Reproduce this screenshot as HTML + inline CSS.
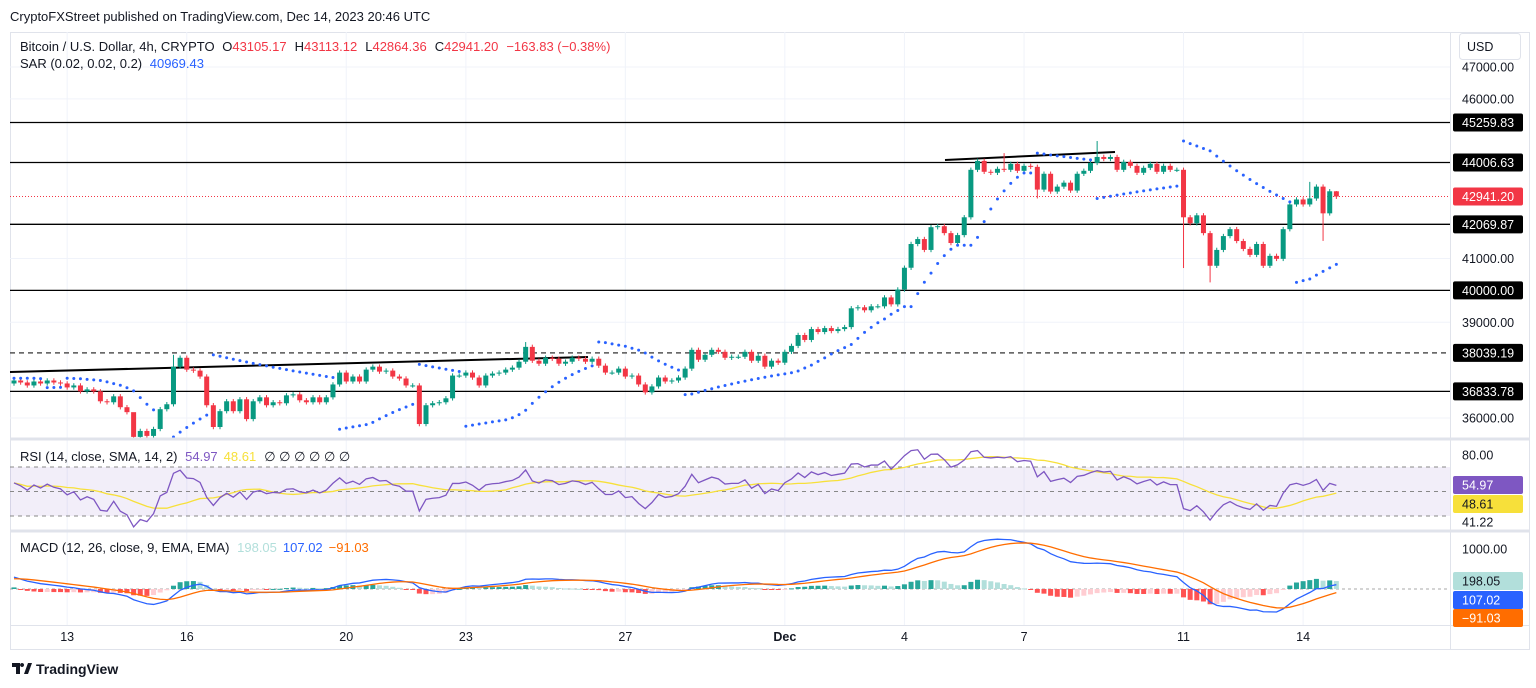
<!DOCTYPE html>
<html><head><meta charset="utf-8"><style>
html,body{margin:0;padding:0;background:#fff;width:1536px;height:688px;overflow:hidden}
svg{display:block;font-family:"Liberation Sans",sans-serif}
</style></head><body>
<svg id="c" width="1536" height="688" xmlns="http://www.w3.org/2000/svg">
<rect width="1536" height="688" fill="#fff"/>
<text x="10" y="21" font-size="13" fill="#131722">CryptoFXStreet published on TradingView.com, Dec 14, 2023 20:46 UTC</text>
<rect x="10.5" y="32.5" width="1519" height="617" fill="none" stroke="#e0e3eb"/>
<g id="grid"></g>
<rect x="10" y="467" width="1440" height="49" fill="#7e57c2" fill-opacity="0.1"/>
<g id="levels"></g>
<line x1="10" y1="372" x2="588" y2="357" stroke="#000" stroke-width="2"/>
<line x1="945" y1="160" x2="1115" y2="152" stroke="#000" stroke-width="2"/>
<g id="candles"></g>
<g id="sar"></g>
<g id="rsi"></g>
<g id="macd"></g>
<line x1="10" y1="439" x2="1530" y2="439" stroke="#e0e3eb" stroke-width="3"/>
<line x1="10" y1="531" x2="1530" y2="531" stroke="#e0e3eb" stroke-width="3"/>
<line x1="10" y1="625.5" x2="1530" y2="625.5" stroke="#e0e3eb"/>
<line x1="1450.5" y1="32" x2="1450.5" y2="650" stroke="#e0e3eb"/>
<g id="axis"></g>
<g id="taxis"></g>
<rect x="1459.5" y="33.5" width="61" height="26" rx="3" fill="#fff" stroke="#e0e3eb"/>
<text x="1467" y="51" font-size="12.5" fill="#131722">USD</text>
<text x="20" y="51" font-size="13" fill="#131722">Bitcoin / U.S. Dollar, 4h, CRYPTO <tspan dx="4">O</tspan><tspan fill="#f23645">43105.17</tspan><tspan dx="8">H</tspan><tspan fill="#f23645">43113.12</tspan><tspan dx="8">L</tspan><tspan fill="#f23645">42864.36</tspan><tspan dx="8">C</tspan><tspan fill="#f23645">42941.20</tspan><tspan dx="8" fill="#f23645">−163.83 (−0.38%)</tspan></text>
<text x="20" y="68" font-size="13" fill="#131722">SAR (0.02, 0.02, 0.2) <tspan dx="4" fill="#2962ff">40969.43</tspan></text>
<text x="20" y="461" font-size="13" fill="#131722">RSI (14, close, SMA, 14, 2) <tspan dx="4" fill="#7e57c2">54.97</tspan><tspan dx="6" fill="#f7e03a">48.61</tspan><tspan dx="8">∅ ∅ ∅ ∅ ∅ ∅</tspan></text>
<text x="20" y="552" font-size="13" fill="#131722">MACD (12, 26, close, 9, EMA, EMA) <tspan dx="4" fill="#b2dfdb">198.05</tspan><tspan dx="6" fill="#2962ff">107.02</tspan><tspan dx="6" fill="#ff6d00">−91.03</tspan></text>
<g>
<path d="M12 663h8v11h-4v-7h-4z M22 663a2 2 0 1 0 0.1 0z M24 674l4-11h4l-4 11z" fill="#131722"/>
<text x="36" y="674" font-size="14" font-weight="bold" fill="#131722">TradingView</text>
</g>
</svg>
<script>
const closes=[37175,37113,37020,37144,37082,37175,37113,37082,36958,37020,36834,
36896,36834,36524,36493,36679,36338,36183,35408,35594,35439,35656,
36276,36431,37609,37888,37516,37485,37299,36400,35718,36214,36524,
36214,36586,35966,36524,36648,36400,36493,36462,36710,36741,36555,
36493,36648,36493,36648,37051,37423,37144,37299,37144,37516,37609,
37454,37485,37299,37237,37020,37020,35811,36400,36462,36493,36617,
37330,37330,37423,37268,37020,37330,37392,37423,37516,37578,37764,
38229,37795,37702,37888,37857,37702,37764,37888,37857,37764,37857,
37640,37423,37423,37547,37299,37330,37051,36803,36989,37268,37144,
37175,37268,37547,38136,37826,37981,38136,38074,37888,37919,37919,
38074,37795,37950,37609,37795,37733,38074,38260,38601,38446,38787,
38694,38818,38725,38787,38849,39438,39469,39376,39500,39500,39779,
39562,40027,40709,41453,41608,41267,41980,42011,41794,41484,41732,
42290,43778,44057,43716,43685,43809,43778,43964,43747,43902,43871,
43158,43654,43096,43251,43375,43127,43654,43747,43995,44181,44119,
44181,43778,44026,43902,43685,43840,43964,43716,43902,43778,43778,
42290,42104,42352,41794,40771,41267,41701,41918,41546,41298,41112,
41453,40771,41081,40988,41918,42693,42848,42693,42879,43251,42414,
43105,42941];
const firstOpen=37082;
const highWicks={18:35500,24:37980,77:38380,149:44300,163:44680,195:43400,199:43113};
const lowWicks={18:35350,154:42880,176:40700,180:40250,197:41550,199:42864};
const levels=[45259.83,44006.63,42069.87,40000.00,38039.19,36833.78];
const priceTicks=[47000,46000,41000,39000,36000];
const rsiTicks=[80];
const macdTicks=[1000];
const dateLabels=["13","16","20","23","27","Dec","4","7","11","14"];
const dateIndex=[8,26,50,68,92,116,134,152,176,194];
const lastPrice=42941.20;

const NS="http://www.w3.org/2000/svg";
function mk(parent,tag,attrs){const e=document.createElementNS(NS,tag);for(const k in attrs)e.setAttribute(k,attrs[k]);parent.appendChild(e);return e;}
const X=i=>14+i*6.645;
const Y=p=>418-(p-36000)*0.031909;
const YR=v=>467-(v-70)*1.225;
const YM=v=>589-v*0.040;
const n=closes.length;
const opens=closes.map((c,i)=>i?closes[i-1]:firstOpen);
const highs=closes.map((c,i)=>highWicks[i]!==undefined?highWicks[i]:Math.max(c,opens[i])+70);
const lows=closes.map((c,i)=>lowWicks[i]!==undefined?lowWicks[i]:Math.min(c,opens[i])-70);

const grid=document.getElementById('grid');
dateIndex.forEach(i=>{const l=mk(grid,'line',{x1:X(i),x2:X(i),y1:32,y2:625,stroke:'#f0f3fa'});});
priceTicks.forEach(p=>{const l=mk(grid,'line',{x1:10,x2:1450,y1:Y(p),y2:Y(p),stroke:'#f0f3fa'});});

const lv=document.getElementById('levels');
levels.forEach(p=>{const dashed=Math.abs(p-38039.19)<1;const l=mk(lv,'line',{x1:10,x2:1450,y1:Y(p),y2:Y(p),stroke:dashed?'#555':'#000','stroke-width':dashed?1.5:1.3});if(dashed)l.setAttribute('stroke-dasharray','5 4');});
{const l=mk(lv,'line',{x1:10,x2:1450,y1:Y(lastPrice),y2:Y(lastPrice),stroke:'#f23645','stroke-dasharray':'1 2'});}

const cg=document.getElementById('candles');
for(let i=0;i<n;i++){const up=closes[i]>=opens[i];const col=up?'#089981':'#f23645';const x=X(i);
const g=mk(cg,'g',{});
mk(g,'line',{x1:x,x2:x,y1:Y(highs[i]),y2:Y(lows[i]),stroke:col,'stroke-width':1});
const t=Y(Math.max(opens[i],closes[i])),b=Y(Math.min(opens[i],closes[i]));
mk(g,'rect',{x:x-2.5,y:t,width:5,height:Math.max(1,b-t),fill:col});}

// Parabolic SAR
const sarv=[];let upT=false,af=0.02,ep=lows[0],s=highs[0];sarv.push(s);
for(let i=1;i<n;i++){s=s+af*(ep-s);
 if(upT){s=Math.min(s,lows[i-1],i>1?lows[i-2]:lows[i-1]);if(lows[i]<s){upT=false;s=ep;ep=lows[i];af=0.02;}else if(highs[i]>ep){ep=highs[i];af=Math.min(af+0.02,0.2);}}
 else{s=Math.max(s,highs[i-1],i>1?highs[i-2]:highs[i-1]);if(highs[i]>s){upT=true;s=ep;ep=highs[i];af=0.02;}else if(lows[i]<ep){ep=lows[i];af=Math.min(af+0.02,0.2);}}
 sarv.push(s);}
const sg=document.getElementById('sar');
sarv.forEach((v,i)=>{const y=Y(v);if(y<32||y>438)return;const c=mk(sg,'circle',{cx:X(i),cy:y,r:1.5,fill:'#2962ff'});});

// RSI
const rsi=[];let ag=60,al=45;rsi.push(57);
for(let i=1;i<n;i++){const d=closes[i]-closes[i-1];ag=(ag*13+Math.max(d,0))/14;al=(al*13+Math.max(-d,0))/14;rsi.push(100-100/(1+ag/al));}
const rsma=rsi.map((v,i)=>{const a=rsi.slice(Math.max(0,i-13),i+1);return a.reduce((s,x)=>s+x,0)/a.length;});
const rg=document.getElementById('rsi');
[[70,'rsi-upper'],[50,'rsi-middle'],[30,'rsi-lower']].forEach(([v,nm])=>{const l=mk(rg,'line',{x1:10,x2:1450,y1:YR(v),y2:YR(v),stroke:'#888','stroke-dasharray':'4 4'});});
{const p=mk(rg,'polyline',{points:rsma.map((v,i)=>X(i)+','+YR(v)).join(' '),fill:'none',stroke:'#f7e03a','stroke-width':1.3});}
{const p=mk(rg,'polyline',{points:rsi.map((v,i)=>X(i)+','+YR(v)).join(' '),fill:'none',stroke:'#7e57c2','stroke-width':1.3});}

// MACD
const ema=(arr,len,seed)=>{const k=2/(len+1);let e=seed;return arr.map(v=>e=v*k+e*(1-k));};
const e12=ema(closes,12,closes[0]+350),e26=ema(closes,26,closes[0]);
const macd=e12.map((v,i)=>v-e26[i]);
const sig=ema(macd,9,macd[0]-50);
const hist=macd.map((v,i)=>v-sig[i]);
const mg=document.getElementById('macd');
{const l=mk(mg,'line',{x1:10,x2:1450,y1:YM(0),y2:YM(0),stroke:'#aaa','stroke-dasharray':'3 3'});}
hist.forEach((h,i)=>{const prev=i?hist[i-1]:0;let col=h>=0?(h>=prev?'#26a69a':'#b2dfdb'):(h<prev?'#ff5252':'#ffcdd2');
const y1=YM(Math.max(h,0)),y2=YM(Math.min(h,0));const r=mk(mg,'rect',{x:X(i)-2.5,y:y1,width:5,height:Math.max(1,y2-y1),fill:col});});
{const p=mk(mg,'polyline',{points:macd.map((v,i)=>X(i)+','+YM(v)).join(' '),fill:'none',stroke:'#2962ff','stroke-width':1.3});}
{const p=mk(mg,'polyline',{points:sig.map((v,i)=>X(i)+','+YM(v)).join(' '),fill:'none',stroke:'#ff6d00','stroke-width':1.3});}

// Axis labels
const ax=document.getElementById('axis');
function plain(y,txt,nm){const t=mk(ax,'text',{x:1462,y:y+4.5,'font-size':12.5,fill:'#131722'});t.textContent=txt;}
function box(y,txt,bg,fg,nm){const g=mk(ax,'g',{});mk(g,'rect',{x:1453,y:y-9,width:70,height:18,rx:2,fill:bg});const t=mk(g,'text',{x:1462,y:y+4.5,'font-size':12.5,fill:fg});t.textContent=txt;}
priceTicks.forEach(p=>plain(Y(p),p.toFixed(2),'price-tick'));
levels.forEach(p=>box(Y(p),p.toFixed(2),'#000','#fff','level-label'));
box(Y(lastPrice),lastPrice.toFixed(2),'#f23645','#fff','last-price-label');
rsiTicks.forEach(v=>plain(YR(v),v.toFixed(2),'rsi-tick'));
box(485,'54.97','#7e57c2','#fff','rsi-value-label');
box(504,'48.61','#f7e03a','#131722','rsi-sma-label');
plain(522,'41.22','rsi-low-label');
macdTicks.forEach(v=>plain(YM(v),v.toFixed(2),'macd-tick'));
box(581,'198.05','#b2dfdb','#131722','macd-hist-label');
box(600,'107.02','#2962ff','#fff','macd-value-label');
box(618,'−91.03','#ff6d00','#fff','signal-value-label');
const ta=document.getElementById('taxis');
dateLabels.forEach((d,k)=>{const t=mk(ta,'text',{x:X(dateIndex[k]),y:641,'font-size':12.5,fill:'#131722','text-anchor':'middle','font-weight':d==='Dec'?'bold':'normal'});t.textContent=d;});
</script>
</body></html>
